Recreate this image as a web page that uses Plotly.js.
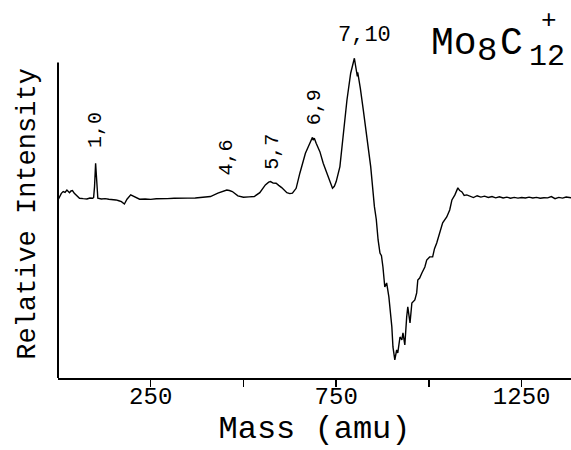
<!DOCTYPE html>
<html>
<head>
<meta charset="utf-8">
<script src="https://cdn.plot.ly/plotly-3.0.1.min.js"></script>
<style>html,body{margin:0;padding:0;background:#fff;}#chart{width:571px;height:450px;}</style>
</head>
<body>
<div id="chart"></div>
<script>
// Mass axis (amu)
const massValues = [0,4,9,14,19,24,28,31,35,39,44,48,53,58,68,78,86,93,96,98.5,101.4,104.4,107.4,117,127,137,147,156,164,171,179,186,196,205,213,220,235,250,265,280,295,313,330,350,370,392,411,431,446,455,462,470,485,500,515,529,544,559,568,573,580,588,595,603,617,625,632,642,652,667,681,686,688,691,696,706,715,730,740,745,750,760,769,779,789,795,799,802,805,807,808,811,815,823,833,838,843,853,858,863,868,872,876,881,886,892,900,903,908,913,916,922,927,930,935,940,943,949,954,962,967,970,975,981,989,994,1002,1010,1015,1021,1029,1037,1048,1056,1062,1070,1078,1083,1089,1095,1102,1110,1120,1130,1140,1150,1160,1170,1180,1190,1200,1210,1220,1230,1240,1250,1260,1270,1280,1290,1300,1310,1320,1330,1340,1350,1360,1370,1383];
// Relative intensity (arbitrary units, 7,10 peak = 100)
const intensityValues = [-1.2,1.2,3.5,4.8,4.2,5.9,4.6,4.0,5.2,5.5,3.5,2.4,1.0,0,-0.3,-0.5,0.2,0,0.5,8.3,25,8.3,0,-0.5,-0.3,-0.7,-0.9,-1.2,-1.8,-2.4,-4.1,-0.7,2.4,1.2,0,-0.7,-0.5,-0.8,-0.4,-0.6,-0.3,0,-0.2,0.1,0.2,0.7,1.2,3.6,5.0,5.9,5.5,4.8,1.7,0.7,1.0,1.2,4.0,9.5,11.5,11.9,10.8,10.7,9.2,7.6,4.0,3.3,3.6,7.1,17.9,32.1,40.5,43.5,41.5,42.9,39.3,33.3,25,14.3,7.1,8.5,11.9,22.6,46.4,70.2,89.3,96,100,95,91.6,87,90,83.3,78.6,63.1,41.6,35,22.6,-6,-15,-29.8,-39.1,-41,-49.1,-63.4,-60.5,-70.5,-91.9,-106.2,-115.5,-108.4,-110.5,-99.1,-101.2,-96.2,-104.8,-84.8,-77.6,-89.1,-74.8,-72.6,-67.6,-58.4,-57,-53.4,-49.1,-44.1,-41.9,-41.9,-36,-31.9,-24.8,-17.6,-13.4,-8.4,-1.2,2.4,7.4,5.5,4.5,2.0,2.4,1.5,0.5,1.8,0.8,1.5,0.6,1.2,0.3,1.0,0.2,0.8,0.0,0.6,0.1,0.5,0.2,0.8,0.2,0.6,0.0,0.4,0.3,1.2,-0.3,0.6,0.1,0.9,0.3];
// Tick labels
const tickValues = [250,500,750,1000,1250];
const tickLabels = ['250','','750','','1250'];
// Peak labels (n,m) and their positions
const peakLabels = ['1,0','4,6','5,7','6,9'];
const peakLabelMass = [101,455,576,690];
const peakLabelIntensity = [49,29,33,65];

const FONT = 'Liberation Mono, Courier New, monospace';
const W = 571, H = 450, L = 58, T = 50, B = 72;
const px = v => (v - L) / (W - L);
const py = v => (H - B - v) / (H - B - T);

const annotations = peakLabels.map((t,i)=>({
  text: t, x: peakLabelMass[i], y: peakLabelIntensity[i], xref:'x', yref:'y',
  showarrow:false, textangle:-90, font:{family:FONT, size:20, color:'#000'}
}));
function txt(t, x, y, size, xa){
  return {text:t, x:px(x), y:py(y), xref:'paper', yref:'paper', xanchor:xa||'center', yanchor:'middle',
    showarrow:false, font:{family:FONT, size:size, color:'#000'}};
}
annotations.push(txt('7,10', 364, 36, 22));
annotations.push(txt('Mo', 429, 44, 38, 'left'));
annotations.push(txt('8', 475, 51, 34, 'left'));
annotations.push(txt('C', 498, 44, 38, 'left'));
annotations.push(txt('12', 527, 57, 30, 'left'));
annotations.push(txt('+', 549, 21, 26));

const layout = {
  width:W, height:H,
  margin:{l:L, r:0, t:T, b:B},
  paper_bgcolor:'#fff', plot_bgcolor:'#fff',
  showlegend:false,
  xaxis:{range:[0,1383], showline:true, linewidth:2, linecolor:'#000', ticks:'outside', ticklen:7, tickwidth:1.5, tickcolor:'#000',
    tickvals:tickValues, ticktext:tickLabels, showgrid:false, zeroline:false, ticklabelstandoff:-12,
    tickfont:{family:FONT, size:24, color:'#000'},
    title:{text:'Mass (amu)', font:{family:FONT, size:32, color:'#000'}, standoff:0}},
  yaxis:{range:[-128.4,105.9], showline:false, showticklabels:false, ticks:'', showgrid:false, zeroline:false,
    title:{text:'Relative Intensity', font:{family:FONT, size:27, color:'#000'}, standoff:13}},
  shapes:[{type:'line', xref:'paper', x0:0, x1:0, yref:'y', y0:-128.4, y1:97, line:{color:'#000', width:2}}],
  annotations: annotations
};

Plotly.newPlot('chart', [{x:massValues, y:intensityValues, type:'scatter', mode:'lines', line:{color:'#000', width:1.4}, hoverinfo:'skip'}], layout, {staticPlot:true, displayModeBar:false});
</script>
</body>
</html>
